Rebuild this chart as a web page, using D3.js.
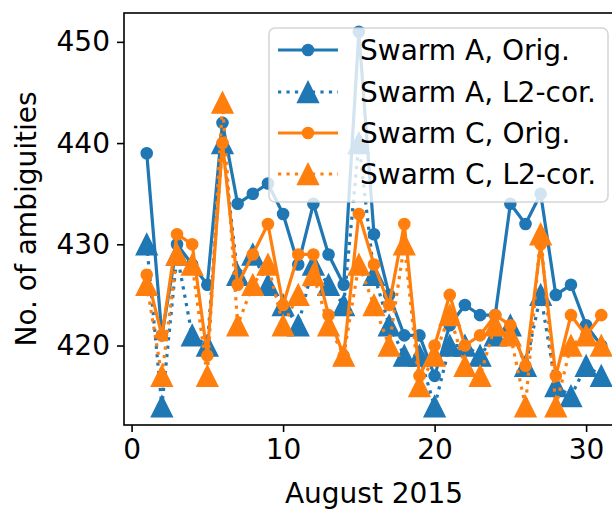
<!DOCTYPE html>
<html>
<head>
<meta charset="utf-8">
<script src="https://cdn.jsdelivr.net/npm/d3@7/dist/d3.min.js"></script>
<style>
  html, body { margin: 0; padding: 0; background: #fff; }
  svg { display: block; }
  text { font-family: "DejaVu Sans", sans-serif; fill: #000; }
</style>
</head>
<body>
<svg id="chart" width="612" height="510"></svg>
<script>
// Days of August 2015
const days = [1, 2, 3, 4, 5, 6, 7, 8, 9, 10, 11, 12, 13, 14, 15, 16,
              17, 18, 19, 20, 21, 22, 23, 24, 25, 26, 27, 28, 29, 30, 31];

// Number of ambiguities per day
const swarmAOrig = [439, 421, 430, 428, 426, 442, 434, 435, 436, 433, 428, 434, 429, 426, 451, 431,
                    425, 421, 421, 417, 422, 424, 423, 423, 434, 432, 435, 425, 426, 422, 420];
const swarmAL2   = [430, 414, 429, 421, 420, 440, 427, 429, 426, 424, 422, 428, 426, 424, 440, 427,
                    422, 419, 419, 414, 420, 420, 419, 421, 422, 418, 425, 416, 415, 418, 417];
const swarmCOrig = [427, 421, 431, 430, 419, 440, 426, 429, 432, 424, 429, 429, 423, 419, 433, 428,
                    424, 432, 417, 420, 425, 420, 421, 423, 422, 418, 430, 417, 423, 421, 423];
const swarmCL2   = [426, 417, 429, 428, 417, 444, 422, 426, 428, 422, 425, 427, 422, 419, 428, 424,
                    420, 430, 416, 419, 423, 418, 417, 422, 421, 414, 431, 414, 420, 421, 420];

const xTicks = [0, 10, 20, 30];
const yTicks = [420, 430, 440, 450];

const series = [
  { label: "Swarm A, Orig.",   values: swarmAOrig, color: "#1f77b4", dotted: false, marker: "circle" },
  { label: "Swarm A, L2-cor.", values: swarmAL2,   color: "#1f77b4", dotted: true,  marker: "triangle" },
  { label: "Swarm C, Orig.",   values: swarmCOrig, color: "#ff7f0e", dotted: false, marker: "circle" },
  { label: "Swarm C, L2-cor.", values: swarmCL2,   color: "#ff7f0e", dotted: true,  marker: "triangle" }
];

const svg = d3.select("#chart");
const plot = { left: 124, top: 13, right: 624, bottom: 425 };
const LW = 3.2;
const FONT = 28;

const x = d3.scaleLinear().domain([-0.5, 32.5]).range([plot.left, plot.right]);
const y = d3.scaleLinear().domain([412.15, 452.85]).range([plot.bottom, plot.top]);

svg.append("defs").append("clipPath").attr("id", "plotclip")
  .append("rect")
  .attr("x", plot.left).attr("y", plot.top)
  .attr("width", plot.right - plot.left).attr("height", plot.bottom - plot.top);

const triSize = 21;
const triPath = `M0,${-triSize / 2}L${-triSize / 2},${triSize / 2}L${triSize / 2},${triSize / 2}Z`;

function drawMarker(g, s, cx, cy) {
  if (s.marker === "circle") {
    g.append("circle").attr("cx", cx).attr("cy", cy).attr("r", 5.6)
      .attr("fill", s.color).attr("stroke", s.color).attr("stroke-width", 1.4);
  } else {
    g.append("path").attr("d", triPath).attr("transform", `translate(${cx},${cy})`)
      .attr("fill", s.color).attr("stroke", s.color).attr("stroke-width", 1.4)
      .attr("stroke-linejoin", "miter");
  }
}

const lines = svg.append("g").attr("clip-path", "url(#plotclip)");
const lineGen = d3.line().x((d, i) => x(days[i])).y(d => y(d));

series.forEach(s => {
  const g = lines.append("g");
  g.append("path")
    .attr("d", lineGen(s.values))
    .attr("fill", "none")
    .attr("stroke", s.color)
    .attr("stroke-width", LW)
    .attr("stroke-linejoin", "round")
    .attr("stroke-dasharray", s.dotted ? `${LW},${LW * 1.65}` : null);
  s.values.forEach((v, i) => drawMarker(g, s, x(days[i]), y(v)));
});

// Axes
const xAxis = d3.axisBottom(x).tickValues(xTicks).tickSize(7).tickPadding(7).tickFormat(d3.format("d"));
const yAxis = d3.axisLeft(y).tickValues(yTicks).tickSize(7).tickPadding(7).tickFormat(d3.format("d"));

const gx = svg.append("g").attr("transform", `translate(0,${plot.bottom})`).call(xAxis);
const gy = svg.append("g").attr("transform", `translate(${plot.left},0)`).call(yAxis);
[gx, gy].forEach(g => {
  g.select(".domain").remove();
  g.selectAll(".tick line").attr("stroke", "#000").attr("stroke-width", 1.6);
  g.selectAll(".tick text").style("font-size", FONT + "px").style("font-family", "DejaVu Sans");
});

// Frame
svg.append("rect")
  .attr("x", plot.left).attr("y", plot.top)
  .attr("width", plot.right - plot.left).attr("height", plot.bottom - plot.top)
  .attr("fill", "none").attr("stroke", "#000").attr("stroke-width", 1.6);

// Axis titles
svg.append("text")
  .attr("x", (plot.left + plot.right) / 2).attr("y", 503)
  .attr("text-anchor", "middle")
  .style("font-size", FONT + "px")
  .text("August 2015");

svg.append("text")
  .attr("transform", `translate(36,${(plot.top + plot.bottom) / 2}) rotate(-90)`)
  .attr("text-anchor", "middle")
  .style("font-size", FONT + "px")
  .text("No. of ambiguities");

// Legend
const legend = svg.append("g");
legend.append("rect")
  .attr("x", 269).attr("y", 28).attr("width", 339).attr("height", 174)
  .attr("rx", 6).attr("ry", 6)
  .attr("fill", "#fff").attr("fill-opacity", 0.8)
  .attr("stroke", "#cccccc").attr("stroke-opacity", 0.8).attr("stroke-width", 1.6);

const rowY = [50, 92, 133, 174];
series.forEach((s, i) => {
  const g = legend.append("g");
  const cy = rowY[i];
  g.append("line")
    .attr("x1", 278).attr("x2", 338).attr("y1", cy).attr("y2", cy)
    .attr("stroke", s.color).attr("stroke-width", LW)
    .attr("stroke-dasharray", s.dotted ? `${LW},${LW * 1.65}` : null);
  drawMarker(g, s, 308, cy);
  g.append("text")
    .attr("x", 360).attr("y", cy).attr("dy", "0.36em")
    .style("font-size", FONT + "px")
    .text(s.label);
});
</script>
</body>
</html>
